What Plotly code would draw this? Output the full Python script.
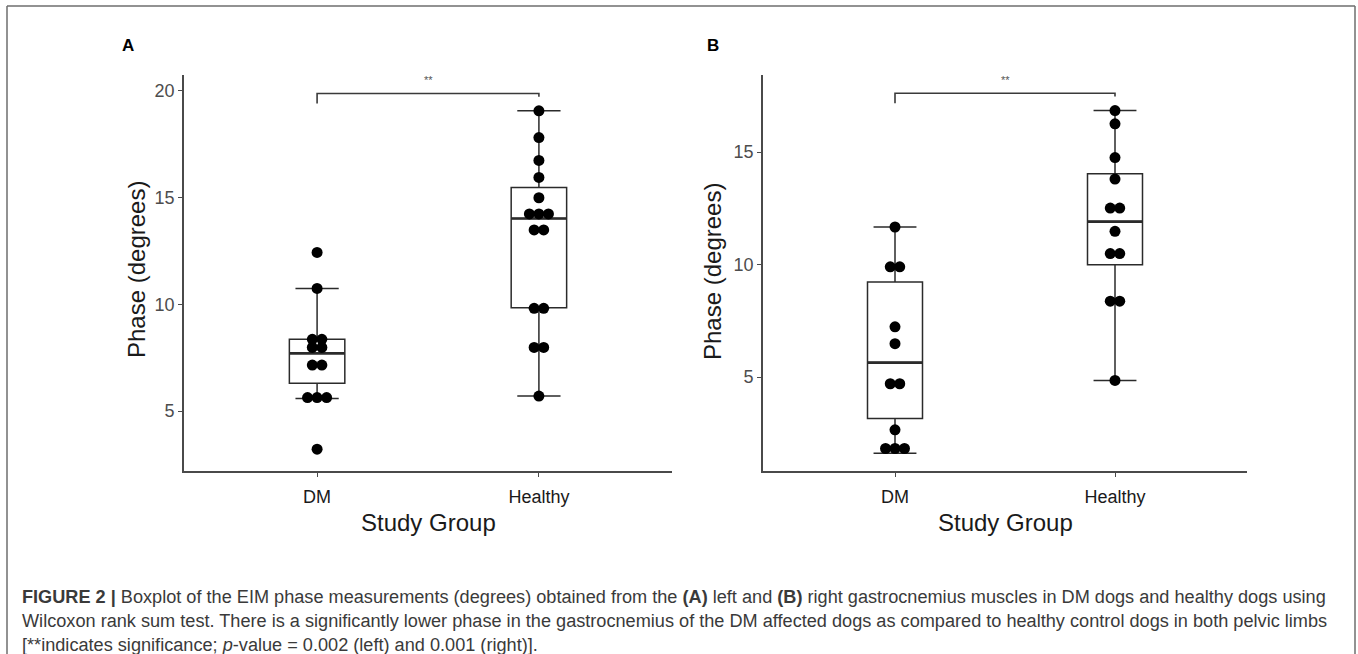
import plotly.graph_objects as go
from collections import Counter

# ---------------- data ----------------
categories = ["DM", "Healthy"]

# Panel A (left gastrocnemius)
a_dm_points = [12.43, 10.74, 8.36, 8.36, 7.98, 7.98, 7.15, 7.15, 5.63, 5.63, 5.63, 3.21]
a_healthy_points = [19.06, 17.81, 16.74, 15.94, 14.99, 14.23, 14.23, 14.23, 13.48, 13.48,
                    9.81, 9.81, 7.98, 7.98, 5.70]
a_q1 = [6.30, 9.84]
a_median = [7.70, 14.02]
a_q3 = [8.36, 15.47]
a_lower = [5.59, 5.70]
a_upper = [10.74, 19.06]

# Panel B (right gastrocnemius)
b_dm_points = [11.67, 9.90, 9.90, 7.23, 6.48, 4.70, 4.70, 2.65, 1.82, 1.82, 1.82]
b_healthy_points = [16.85, 16.26, 14.76, 13.80, 12.51, 12.51, 11.48, 10.49, 10.49,
                    8.37, 8.37, 4.85]
b_q1 = [3.15, 9.99]
b_median = [5.64, 11.91]
b_q3 = [9.22, 14.04]
b_lower = [1.61, 4.85]
b_upper = [11.67, 16.85]

# significance brackets: [left leg end, bar, right leg end]
a_bracket = [19.41, 19.875, 19.72]
b_bracket = [17.17, 17.62, 17.47]
sig_label = "**"

y_ticks_a = [5, 10, 15, 20]
y_ticks_b = [5, 10, 15]

# ---------------- style ----------------
W, H = 1358, 654
AX_COL = "#4a4a4a"
LINE_COL = "#2b2b2b"
FONT = "Liberation Sans, Arial, sans-serif"
BOX_W = 0.25
DOT_STEP = 0.043
DOT_SIZE = 11

fig = go.Figure()


def px_x(p):
    return p / W


def px_y(p):
    return 1 - p / H


def dot_xy(values, center):
    xs, ys = [], []
    counts = Counter(values)
    seen = Counter()
    for v in values:
        n = counts[v]
        k = seen[v]
        seen[v] += 1
        xs.append(center + (k - (n - 1) / 2) * DOT_STEP)
        ys.append(v)
    return xs, ys


def add_panel(xa, ya, q1, med, q3, lo, hi, pts_list, bracket):
    xref = "x" if xa == "xaxis" else "x2"
    yref = "y" if ya == "yaxis" else "y2"
    for i, cat in enumerate(categories):
        pos = i + 1
        fig.add_trace(go.Box(
            x=[pos], q1=[q1[i]], median=[med[i]], q3=[q3[i]],
            lowerfence=[lo[i]], upperfence=[hi[i]],
            width=BOX_W, whiskerwidth=0.78, boxpoints=False,
            fillcolor="white", line=dict(color=LINE_COL, width=1.5),
            xaxis=xref, yaxis=yref, showlegend=False, hoverinfo="skip"))
        # thicker median line
        fig.add_trace(go.Scatter(
            x=[pos - BOX_W / 2, pos + BOX_W / 2], y=[med[i], med[i]],
            mode="lines", line=dict(color=LINE_COL, width=2.6),
            xaxis=xref, yaxis=yref, showlegend=False, hoverinfo="skip"))
    for i, pts in enumerate(pts_list):
        xs, ys = dot_xy(pts, i + 1)
        fig.add_trace(go.Scatter(
            x=xs, y=ys, mode="markers",
            marker=dict(color="black", size=DOT_SIZE, line=dict(width=0)),
            xaxis=xref, yaxis=yref, showlegend=False, hoverinfo="skip"))
    fig.add_trace(go.Scatter(
        x=[1, 1, 2, 2], y=[bracket[0], bracket[1], bracket[1], bracket[2]],
        mode="lines", line=dict(color="#3a3a3a", width=1.6),
        xaxis=xref, yaxis=yref, showlegend=False, hoverinfo="skip"))
    fig.add_annotation(x=1.5, y=bracket[1], xref=xref, yref=yref, text=sig_label,
                       showarrow=False, yanchor="bottom", yshift=5,
                       font=dict(size=11, color="#555", family=FONT))


add_panel("xaxis", "yaxis", a_q1, a_median, a_q3, a_lower, a_upper,
          [a_dm_points, a_healthy_points], a_bracket)
add_panel("xaxis2", "yaxis2", b_q1, b_median, b_q3, b_lower, b_upper,
          [b_dm_points, b_healthy_points], b_bracket)

ydom = [px_y(471), px_y(75)]
common_x = dict(range=[0.4, 2.6], tickvals=[1, 2], ticktext=categories,
                showline=True, linecolor=AX_COL, linewidth=1.6, ticks="outside",
                ticklen=4, tickcolor=AX_COL, tickwidth=1.2, showgrid=False, zeroline=False,
                ticklabelstandoff=5,
                tickfont=dict(size=18, color="#1a1a1a", family=FONT))
common_y = dict(showline=True, linecolor=AX_COL, linewidth=1.6, ticks="outside",
                ticklen=4, tickcolor=AX_COL, tickwidth=1.2, showgrid=False, zeroline=False,
                tickfont=dict(size=18, color="#4d4d4d", family=FONT))

fig.update_layout(
    width=W, height=H, margin=dict(l=0, r=0, t=0, b=0),
    paper_bgcolor="white", plot_bgcolor="white",
    xaxis=dict(domain=[px_x(184), px_x(672)], anchor="y", **common_x),
    yaxis=dict(domain=ydom, anchor="x", range=[2.19, 20.74], tickvals=y_ticks_a, **common_y),
    xaxis2=dict(domain=[px_x(763), px_x(1247)], anchor="y2", **common_x),
    yaxis2=dict(domain=ydom, anchor="x2", range=[0.82, 18.43], tickvals=y_ticks_b, **common_y),
    showlegend=False,
)

# axis titles
for cx, cy, txt, ang in [(136, 270, "Phase (degrees)", -90), (712, 272, "Phase (degrees)", -90),
                         (428, 522, "Study Group", 0), (1005, 522, "Study Group", 0)]:
    fig.add_annotation(x=px_x(cx), y=px_y(cy), xref="paper", yref="paper", text=txt,
                       textangle=ang, showarrow=False, xanchor="center", yanchor="middle",
                       font=dict(size=24, color="#1a1a1a", family=FONT))

# panel letters
for cx, txt in [(128, "A"), (713, "B")]:
    fig.add_annotation(x=px_x(cx), y=px_y(46), xref="paper", yref="paper", text=f"<b>{txt}</b>",
                       showarrow=False, xanchor="center", yanchor="middle",
                       font=dict(size=17, color="black", family=FONT))

# caption
caption_lines = [
    "<b>FIGURE 2 |</b> Boxplot of the EIM phase measurements (degrees) obtained from the <b>(A)</b> left and "
    "<b>(B)</b> right gastrocnemius muscles in DM dogs and healthy dogs using",
    "Wilcoxon rank sum test. There is a significantly lower phase in the gastrocnemius of the DM affected dogs "
    "as compared to healthy control dogs in both pelvic limbs",
    "[**indicates significance; <i>p</i>-value = 0.002 (left) and 0.001 (right)].",
]
for i, line in enumerate(caption_lines):
    fig.add_annotation(x=px_x(20), y=px_y(597 + 24 * i), xref="paper", yref="paper", text=line,
                       showarrow=False, xanchor="left", yanchor="middle", align="left",
                       font=dict(size=18.15, color="#3a3a3a", family=FONT))

# outer frame
frame = dict(color="#6e6e6e", width=1.5)
fig.add_shape(type="line", xref="paper", yref="paper", x0=px_x(7), x1=px_x(1355), y0=px_y(6), y1=px_y(6), line=frame)
fig.add_shape(type="line", xref="paper", yref="paper", x0=px_x(7), x1=px_x(7), y0=px_y(6), y1=px_y(654), line=frame)
fig.add_shape(type="line", xref="paper", yref="paper", x0=px_x(1355), x1=px_x(1355), y0=px_y(6), y1=px_y(654), line=frame)

fig.write_html("out.html")
